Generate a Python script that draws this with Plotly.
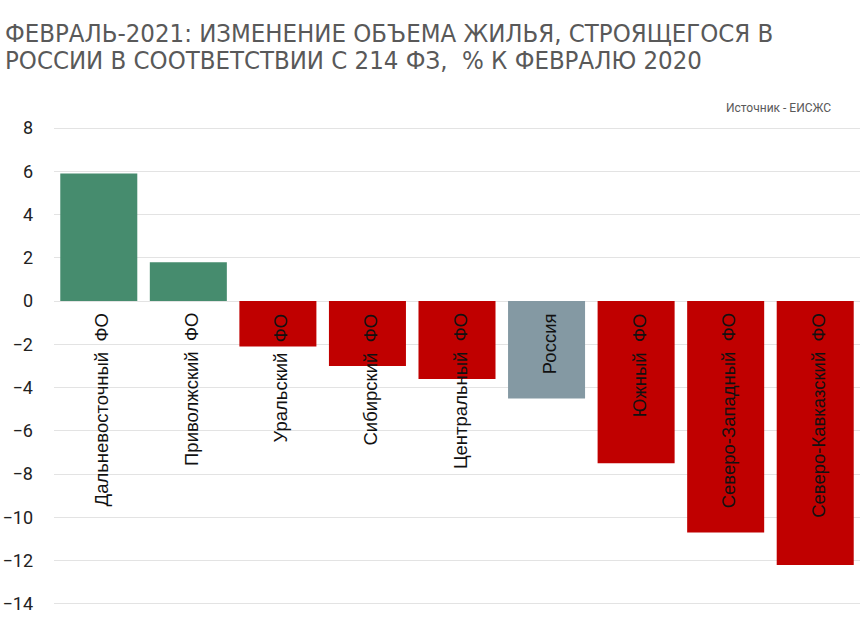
import plotly.graph_objects as go

categories = ["Дальневосточный  ФО", "Приволжский  ФО", "Уральский  ФО", "Сибирский  ФО",
              "Центральный  ФО", "Россия", "Южный  ФО", "Северо-Западный  ФО", "Северо-Кавказский  ФО"]
values = [5.9, 1.8, -2.1, -3.0, -3.6, -4.5, -7.5, -10.7, -12.2]
tick_vals = [8, 6, 4, 2, 0, -2, -4, -6, -8, -10, -12, -14]
title_lines = ["ФЕВРАЛЬ-2021: ИЗМЕНЕНИЕ ОБЪЕМА ЖИЛЬЯ, СТРОЯЩЕГОСЯ В",
               "РОССИИ В СООТВЕТСТВИИ С 214 ФЗ,  % К ФЕВРАЛЮ 2020"]
source_text = "Источник - ЕИСЖС"

GREEN = "#468C6E"
RED = "#C00000"
GREY = "#8499A3"
colors = [GREY if c == "Россия" else (GREEN if v >= 0 else RED) for c, v in zip(categories, values)]

W, H = 868, 635
L, R, T, B = 54, 8, 127, 30
PW, PH = W - L - R, H - T - B

fig = go.Figure()
fig.add_trace(go.Bar(x=categories, y=values, marker=dict(color=colors, line=dict(width=0)),
                     hoverinfo="x+y"))

for c in categories:
    fig.add_annotation(x=c, y=0, xref="x", yref="y", text=c, textangle=-90,
                       showarrow=False, xanchor="center", yanchor="top", yshift=-10, xshift=3,
                       font=dict(family="Liberation Sans, Arial", size=18.5, color="#111111"))

fig.add_annotation(x=(833 - L) / PW, y=1 + (127 - 108) / PH, xref="paper", yref="paper",
                   text=source_text, showarrow=False, xanchor="right", yanchor="middle",
                   font=dict(family="Roboto", size=12, color="#595959"))

for i, line in enumerate(title_lines):
    yc = 33 + 27.5 * i
    fig.add_annotation(x=(3 - L) / PW, y=1 + (127 - yc) / PH, xref="paper", yref="paper",
                       text=line, showarrow=False, xanchor="left", yanchor="middle", align="left",
                       font=dict(family="DejaVu Sans Condensed, DejaVu Sans", size=25.5, color="#595959"))

fig.update_layout(
    width=W, height=H,
    margin=dict(l=L, r=R, t=T, b=B, autoexpand=False),
    paper_bgcolor="white", plot_bgcolor="white",
    bargap=0.14,
    showlegend=False,
    xaxis=dict(showticklabels=False, showgrid=False, zeroline=False, showline=False, ticks=""),
    yaxis=dict(range=[-14.05, 8.05], tickvals=tick_vals, showgrid=True, gridcolor="#E3E3E3", gridwidth=1,
               zeroline=True, zerolinecolor="#E3E3E3", zerolinewidth=1, showline=False, ticks="",
               ticklabelstandoff=20, automargin=False,
               tickfont=dict(family="Roboto", size=18, color="#222222")),
)

fig.write_html("out.html")
